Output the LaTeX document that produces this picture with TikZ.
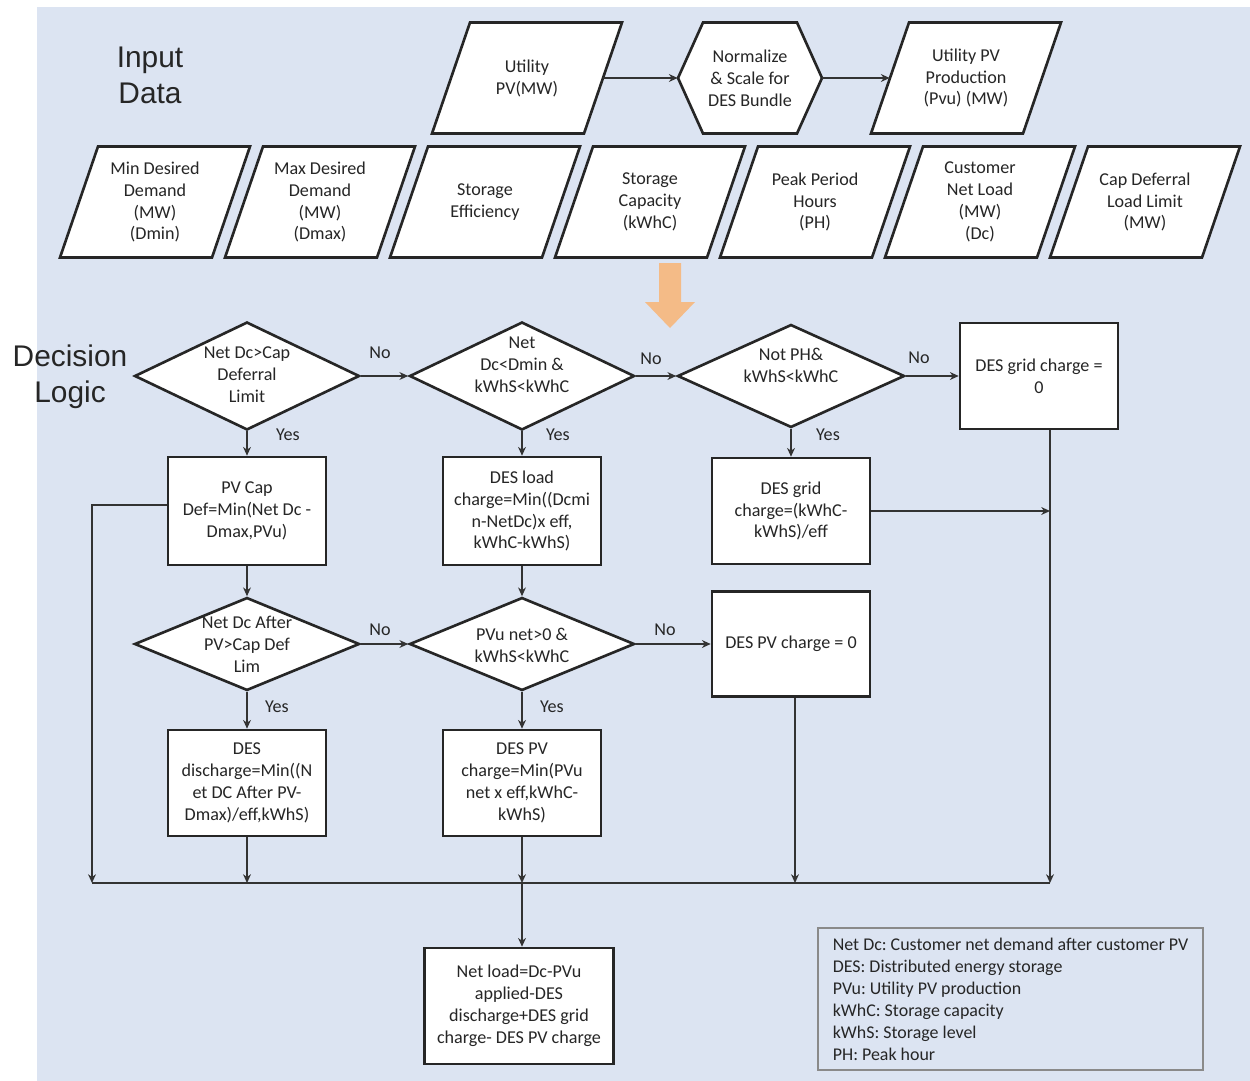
\documentclass[tikz,border=0pt]{standalone}
\usepackage{fontspec}
\setmainfont{Carlito}
\newfontfamily\titlefont{Liberation Sans}
\usetikzlibrary{shapes.geometric,arrows.meta,calc}
\definecolor{bgblue}{HTML}{DCE4F2}
\definecolor{linec}{HTML}{333333}
\definecolor{orng}{HTML}{F9B475}
\definecolor{leggray}{HTML}{8A8A8A}
\frenchspacing
\newcommand\parashape[4]{%
  \filldraw[shp] (#2-57,#3-55.5) -- (#2+95,#3-55.5) -- (#2+57,#3+55.5) -- (#2-95,#3+55.5) -- cycle;
  \node[ptext] (#1) at (#2,#3) {#4};}
\begin{document}
\begin{tikzpicture}[x=0.02cm,y=-0.02cm,
  >={Stealth[length=5pt,width=4.5pt]},
  every node/.style={font=\fontsize{10.3}{12.5}\selectfont, text=black!85},
  shp/.style={draw=black!85, line width=1.5pt, fill=white, line join=miter},
  ptext/.style={minimum width=3.04cm, minimum height=2.22cm, inner sep=0pt, align=center},
  htext/.style={minimum width=2.88cm, minimum height=2.22cm, inner sep=0pt, align=center},
  dia/.style={shape=diamond, draw=black!85, line width=1.5pt, fill=white, inner sep=0pt},
  dtext/.style={align=center, inner sep=0pt},
  box/.style={draw=black!85, line width=1.5pt, fill=white, align=center, inner sep=0pt, minimum width=3.16cm},
  conn/.style={draw=linec, line width=0.7pt},
  lbl/.style={inner sep=1pt},
  title/.style={font=\titlefont\fontsize{17}{20.5}\selectfont, align=center, text=black!85},
  legend/.style={draw=leggray, line width=0.85pt, align=left, inner sep=0pt,
    font=\fontsize{10.2}{12.5}\selectfont, minimum width=7.7cm, minimum height=2.84cm}
]
\useasboundingbox (0,0) rectangle (1250,1081);
\fill[bgblue] (37,7) rectangle (1250,1081);

% titles
\node[title] (inputT) at (150,75) {Input\\Data};
\node[title] (decT) at (70,377) {Decision\\Logic};

% top row
\parashape{pv}{527}{78}{Utility\\PV(MW)}
\filldraw[shp] (703,22.5) -- (797,22.5) -- (822,78) -- (797,133.5) -- (703,133.5) -- (678,78) -- cycle;
\node[htext] (hex) at (750,78) {Normalize\\\& Scale for\\DES Bundle};
\parashape{pvu}{966}{78}{Utility PV\\Production\\(Pvu) (MW)}

% second row
\parashape{i1}{155}{202}{Min Desired\\Demand\\(MW)\\(Dmin)}
\parashape{i2}{320}{202}{Max Desired\\Demand\\(MW)\\(Dmax)}
\parashape{i3}{485}{202}{Storage\\Efficiency}
\parashape{i4}{650}{202}{Storage\\Capacity\\(kWhC)}
\parashape{i5}{815}{202}{Peak Period\\Hours\\(PH)}
\parashape{i6}{980}{202}{Customer\\Net Load\\(MW)\\(Dc)}
\parashape{i7}{1145}{202}{Cap Deferral\\Load Limit\\(MW)}

\draw[conn,->] (pv.east) -- (hex.west);
\draw[conn,->] (hex.east) -- (pvu.west);

% orange arrow
\fill[orng, opacity=0.85] (659,263) -- (681,263) -- (681,302) -- (695,302) -- (670,328) -- (645,302) -- (659,302) -- cycle;

% decisions row 1
\node[dia, minimum width=4.5cm, minimum height=2.16cm] (d1) at (247,376) {};
\node[dtext] (d1t) at (247,375) {Net Dc>Cap\\Deferral\\Limit};
\node[dia, minimum width=4.5cm, minimum height=2.16cm] (d2) at (522,376) {};
\node[dtext] (d2t) at (522,365) {Net\\Dc<Dmin \&\\kWhS<kWhC};
\node[dia, minimum width=4.54cm, minimum height=2.06cm] (d3) at (791,376) {};
\node[dtext] (d3t) at (791,365) {Not PH\&\\kWhS<kWhC};
\node[box, minimum height=2.12cm] (grid0) at (1039,376) {DES grid charge =\\0};

% boxes row 2
\node[box, minimum height=2.16cm] (b1) at (247,511) {PV Cap\\Def=Min(Net Dc -\\Dmax,PVu)};
\node[box, minimum height=2.16cm] (b2) at (522,511) {DES load\\charge=Min((Dcmi\\n-NetDc)x eff,\\kWhC-kWhS)};
\node[box, minimum height=2.12cm] (b3) at (791,511) {DES grid\\charge=(kWhC-\\kWhS)/eff};

% decisions row 2
\node[dia, minimum width=4.5cm, minimum height=1.86cm] (d4) at (247,644) {};
\node[dtext] (d4t) at (247,644) {Net Dc After\\PV>Cap Def\\Lim};
\node[dia, minimum width=4.5cm, minimum height=1.86cm] (d5) at (522,644) {};
\node[dtext] (d5t) at (522,645) {PVu net>0 \&\\kWhS<kWhC};
\node[box, minimum height=2.1cm] (pv0) at (791,644) {DES PV charge = 0};

% boxes row 4
\node[box, minimum height=2.12cm] (b4) at (247,783) {DES\\discharge=Min((N\\et DC After PV-\\Dmax)/eff,kWhS)};
\node[box, minimum height=2.12cm] (b5) at (522,783) {DES PV\\charge=Min(PVu\\net x eff,kWhC-\\kWhS)};

% final
\node[box, minimum width=3.78cm, minimum height=2.32cm] (final) at (519,1006) {Net load=Dc-PVu\\applied-DES\\discharge+DES grid\\charge- DES PV charge};

% legend
\node[legend] (leg) at (1010.5,999) {Net Dc: Customer net demand after customer PV\\DES: Distributed energy storage\\PVu: Utility PV production\\kWhC: Storage capacity\\kWhS: Storage level\\PH: Peak hour};

% labels
\node[lbl] (no1) at (380,353) {No};
\node[lbl] (no2) at (651,359) {No};
\node[lbl] (no3) at (919,358) {No};
\node[lbl] (yes1) at (288,435) {Yes};
\node[lbl] (yes2) at (558,435) {Yes};
\node[lbl] (yes3) at (828,435) {Yes};
\node[lbl] (no4) at (380,630) {No};
\node[lbl] (no5) at (665,630) {No};
\node[lbl] (yes4) at (277,707) {Yes};
\node[lbl] (yes5) at (552,707) {Yes};

% connectors
\draw[conn,->] (d1.east) -- (d2.west);
\draw[conn,->] (d2.east) -- (d3.west);
\draw[conn,->] (d3.east) -- (grid0.west);
\draw[conn,->] (d1.south) -- (b1.north);
\draw[conn,->] (d2.south) -- (b2.north);
\draw[conn,->] (d3.south) -- (b3.north);
\draw[conn,->] (b1.south) -- (d4.north);
\draw[conn,->] (b2.south) -- (d5.north);
\draw[conn,->] (d4.east) -- (d5.west);
\draw[conn,->] (d5.east) -- (pv0.west);
\draw[conn,->] (d4.south) -- (b4.north);
\draw[conn,->] (d5.south) -- (b5.north);

\coordinate (busL) at (92,883);
\coordinate (busR) at (1050,883);
\coordinate (gx) at ($(grid0.south)+(11,0)$);
\coordinate (b1w) at ($(b1.west)+(0,-6)$);
\coordinate (pvx) at ($(pv0.south)+(4,0)$);
\draw[conn] (busL) -- (busR);
\draw[conn,->] (b1w) -| (busL);
\draw[conn,->] (b4.south) -- (b4.south |- busL);
\draw[conn,->] (b5.south) -- (b5.south |- busL);
\draw[conn,->] (pvx) -- (pvx |- busL);
\draw[conn,->] (gx) -- (gx |- busL);
\draw[conn,->] (b3.east) -- (b3.east -| gx);
\draw[conn,->] (b5.south |- busL) -- (b5.south |- final.north);
\end{tikzpicture}
\end{document}
